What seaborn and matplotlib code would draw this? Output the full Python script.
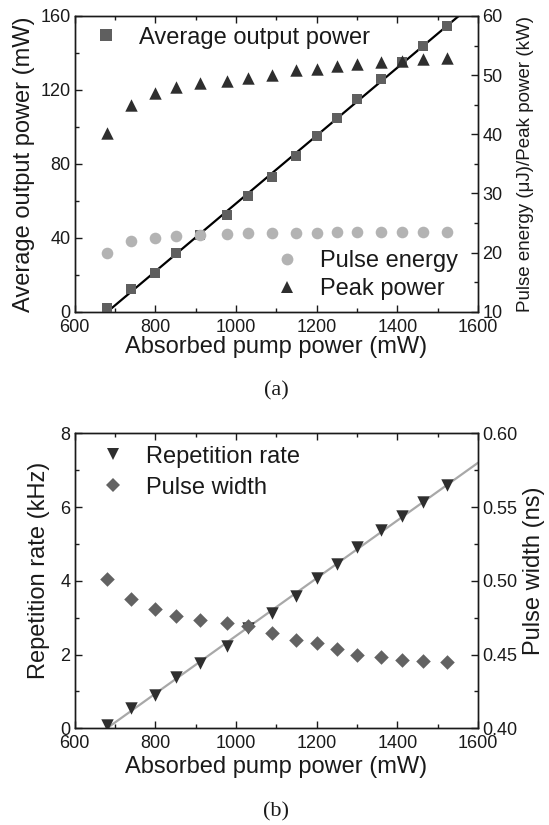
import numpy as np
import pandas as pd
import matplotlib
matplotlib.use("Agg")
import matplotlib.pyplot as plt
import seaborn as sns
from matplotlib.ticker import MultipleLocator, FormatStrFormatter
from matplotlib.lines import Line2D

# Absorbed pump power (mW)
pump = [680, 740, 800, 850, 910, 978, 1030, 1090, 1148, 1200,
        1250, 1300, 1360, 1412, 1464, 1522]
# Average output power (mW)
avg_power = [2.2, 12.1, 21.1, 31.9, 41.3, 52.2, 62.8, 73.1, 84.3, 95.1,
             104.6, 114.9, 125.9, 135.3, 143.9, 154.8]
# Pulse energy (uJ)
pulse_energy = [20.0, 21.9, 22.5, 22.85, 22.97, 23.1, 23.25, 23.3, 23.35, 23.35,
                23.4, 23.4, 23.4, 23.4, 23.4, 23.45]
# Peak power (kW)
peak_power = [40.2, 44.95, 46.9, 48.05, 48.7, 49.0, 49.5, 50.07, 50.9, 51.04,
              51.6, 51.9, 52.3, 52.4, 52.7, 52.9]
# Repetition rate (kHz)
rep_rate = [0.08, 0.56, 0.90, 1.38, 1.76, 2.23, 2.71, 3.12, 3.59, 4.07,
            4.45, 4.92, 5.38, 5.76, 6.15, 6.60]
# Pulse width (ns)
pulse_width = [0.501, 0.4875, 0.4807, 0.4761, 0.4734, 0.4716, 0.4694, 0.4648,
               0.4597, 0.4576, 0.4538, 0.4497, 0.4483, 0.4463, 0.4454, 0.4447]

df = pd.DataFrame({
    "pump": pump, "avg": avg_power, "energy": pulse_energy, "peak": peak_power,
    "rep": rep_rate, "width": pulse_width,
})

sns.set_theme(style="ticks")
plt.rcParams.update({
    "font.family": ["Liberation Sans", "DejaVu Sans"],
    "axes.linewidth": 1.0,
    "axes.edgecolor": "#1a1a1a",
    "xtick.direction": "in",
    "ytick.direction": "in",
    "xtick.major.size": 5, "ytick.major.size": 5,
    "xtick.minor.size": 3, "ytick.minor.size": 3,
    "xtick.major.width": 1.0, "ytick.major.width": 1.0,
    "xtick.minor.width": 1.0, "ytick.minor.width": 1.0,
    "xtick.color": "#1a1a1a", "ytick.color": "#1a1a1a",
    "xtick.labelsize": 13, "ytick.labelsize": 13,
    "xtick.major.pad": 5, "ytick.major.pad": 3,
    "text.color": "#1a1a1a", "axes.labelcolor": "#1a1a1a",
})

C_SQ = "#5f5f5f"
C_TRI = "#2e2e2e"
C_CIRC = "#b3b3b3"
C_DIA = "#626262"

fig = plt.figure(figsize=(5.49, 8.25), dpi=100)
W, H = 549, 825
L, R = 74.7, 478.0
ax1 = fig.add_axes([L / W, (H - 311.7) / H, (R - L) / W, 295.7 / H])
ax3 = fig.add_axes([L / W, (H - 728.3) / H, (R - L) / W, 295.0 / H])


def style_x(ax):
    ax.set_xlim(600, 1600)
    ax.xaxis.set_major_locator(MultipleLocator(200))
    ax.xaxis.set_minor_locator(MultipleLocator(100))
    ax.tick_params(axis="x", which="both", top=True, bottom=True)
    ax.tick_params(axis="y", which="both", left=True, right=False)


# ---------- (a) output power, pulse energy, peak power ----------
style_x(ax1)
ax1.set_ylim(0, 160)
ax1.yaxis.set_major_locator(MultipleLocator(40))
ax1.yaxis.set_minor_locator(MultipleLocator(20))
sns.regplot(data=df, x="pump", y="avg", ax=ax1, scatter=False, ci=None,
            truncate=False, color="black", line_kws={"lw": 1.6, "zorder": 2})
sns.scatterplot(data=df, x="pump", y="avg", ax=ax1, marker="s", s=62,
                color=C_SQ, linewidth=0, zorder=3)
ax1.set_xlim(600, 1600)
ax1.set_ylim(0, 160)
ax1.set_xlabel("Absorbed pump power (mW)", fontsize=17)
ax1.set_ylabel("Average output power (mW)", fontsize=17)
ax1.xaxis.set_label_coords(0.5, -0.082)
ax1.yaxis.set_label_coords(-0.098, 0.5)

ax2 = ax1.twinx()
ax2.set_ylim(10, 60)
ax2.yaxis.set_major_locator(MultipleLocator(10))
ax2.yaxis.set_minor_locator(MultipleLocator(5))
ax2.tick_params(axis="y", which="both", right=True, left=False)
sns.scatterplot(data=df, x="pump", y="energy", ax=ax2, marker="o", s=70,
                color=C_CIRC, linewidth=0, zorder=3)
sns.scatterplot(data=df, x="pump", y="peak", ax=ax2, marker="^", s=80,
                color=C_TRI, linewidth=0, zorder=3)
ax2.set_ylim(10, 60)
ax2.set_ylabel("Pulse energy (\u03bcJ)/Peak power (kW)", fontsize=13.5)
ax2.yaxis.set_label_coords(1.096, 0.5)

h_sq = Line2D([], [], ls="none", marker="s", ms=8, color=C_SQ, mew=0)
ax1.legend([h_sq], ["Average output power"], loc="upper left",
           bbox_to_anchor=(0.008, 1.02), frameon=False, fontsize=17,
           handlelength=1.0, handletextpad=0.88, borderaxespad=0.3)
h_c = Line2D([], [], ls="none", marker="o", ms=8.5, color=C_CIRC, mew=0)
h_t = Line2D([], [], ls="none", marker="^", ms=9, color=C_TRI, mew=0)
ax2.legend([h_c, h_t], ["Pulse energy", "Peak power"], loc="lower right",
           bbox_to_anchor=(1.002, -0.032), frameon=False, fontsize=17,
           handlelength=1.0, handletextpad=0.9, labelspacing=0.25)

# ---------- (b) repetition rate and pulse width ----------
style_x(ax3)
ax3.set_ylim(0, 8)
ax3.yaxis.set_major_locator(MultipleLocator(2))
ax3.yaxis.set_minor_locator(MultipleLocator(1))
sns.regplot(data=df, x="pump", y="rep", ax=ax3, scatter=False, ci=None,
            truncate=False, color="#a8a8a8", line_kws={"lw": 1.6, "zorder": 2})
sns.scatterplot(data=df, x="pump", y="rep", ax=ax3, marker="v", s=80,
                color=C_TRI, linewidth=0, zorder=3)
ax3.set_xlim(600, 1600)
ax3.set_ylim(0, 8)
ax3.set_xlabel("Absorbed pump power (mW)", fontsize=17)
ax3.set_ylabel("Repetition rate (kHz)", fontsize=17)
ax3.xaxis.set_label_coords(0.5, -0.093)
ax3.yaxis.set_label_coords(-0.061, 0.534)

ax4 = ax3.twinx()
ax4.set_ylim(0.40, 0.60)
ax4.yaxis.set_major_locator(MultipleLocator(0.05))
ax4.yaxis.set_minor_locator(MultipleLocator(0.025))
ax4.yaxis.set_major_formatter(FormatStrFormatter("%.2f"))
ax4.tick_params(axis="y", which="both", right=True, left=False)
sns.scatterplot(data=df, x="pump", y="width", ax=ax4, marker="D", s=55,
                color=C_DIA, linewidth=0, zorder=3)
ax4.set_ylim(0.40, 0.60)
ax4.set_ylabel("Pulse width (ns)", fontsize=17)
ax4.yaxis.set_label_coords(1.111, 0.534)

h_v = Line2D([], [], ls="none", marker="v", ms=9, color=C_TRI, mew=0)
h_d = Line2D([], [], ls="none", marker="D", ms=7.5, color=C_DIA, mew=0)
ax3.legend([h_v, h_d], ["Repetition rate", "Pulse width"], loc="upper left",
           bbox_to_anchor=(0.014, 1.03), frameon=False, fontsize=17,
           handlelength=1.0, handletextpad=0.9, labelspacing=0.38)

fig.text(276.5 / W, 1 - 391 / H, "(a)", ha="center", va="center",
         fontsize=16, family=["Liberation Serif", "DejaVu Serif"])
fig.text(276.5 / W, 1 - 812 / H, "(b)", ha="center", va="center",
         fontsize=16, family=["Liberation Serif", "DejaVu Serif"])

fig.savefig("out.png", dpi=100)
